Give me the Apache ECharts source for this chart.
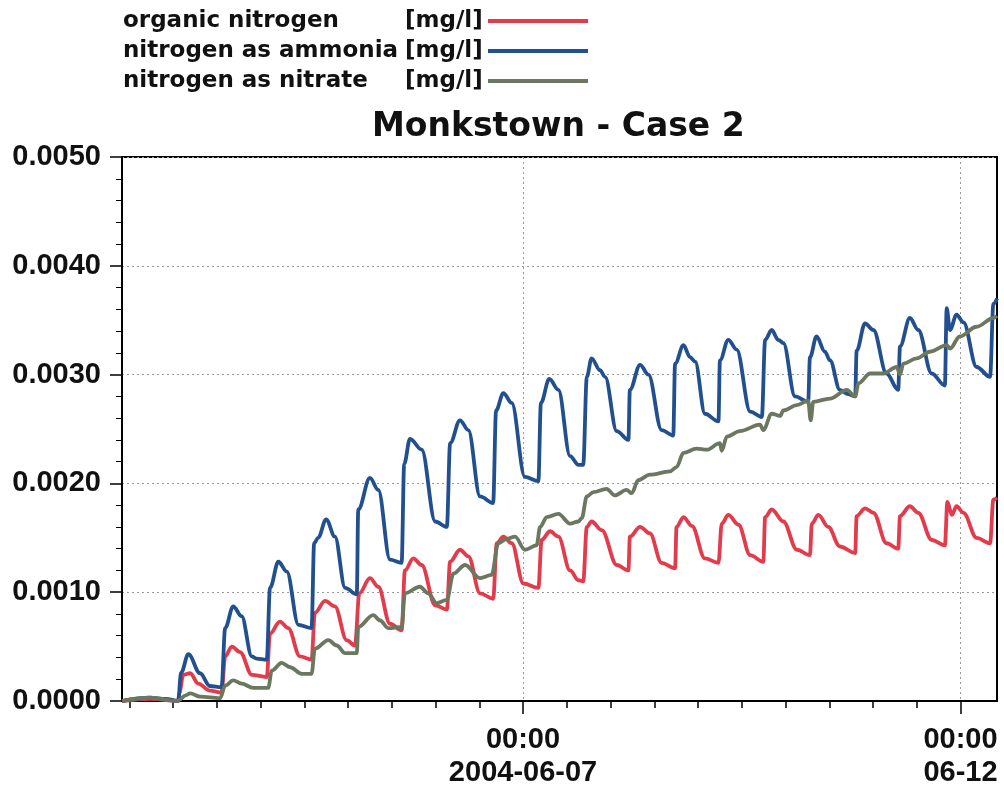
<!DOCTYPE html>
<html><head><meta charset="utf-8">
<script src="https://cdn.jsdelivr.net/npm/echarts@6/dist/echarts.min.js"></script>
<style>html,body{margin:0;padding:0;background:#fff}#c{width:1004px;height:790px}</style>
</head><body><div id="c"></div>
<script>
// ---- texts ----
const chartTitle = 'Monkstown - Case 2';
const seriesNames = ['organic nitrogen', 'nitrogen as ammonia', 'nitrogen as nitrate'];
const unitLabel = '[mg/l]';
const seriesColors = ['#e23b4b', '#22508f', '#6b775f'];

// ---- x axis: hours since 2004-06-02 10:00 ----
const startDate = [2004, 5, 2, 10];      // y, m(0-based), d, h
const spanHours = 240;
const labelHours = [110, 230];           // 2004-06-07 00:00, 2004-06-12 00:00
const firstMinorTickHour = 2;            // 2004-06-02 12:00
const minorTickHours = 12;

// ---- y axis ----
const yMin = 0, yMax = 0.005, yStep = 0.001;

// ---- series values: [hours since start, mg/l] ----
const organicN = [[0,0],[7.7,0.00002],[15.4,0],
[15.7,0.00007],[16.8,0.00024],[18.7,0.000255],[20.9,0.00016],[24.1,0.000095],[27.3,0.000077],
[28.3,0.00041],[30.1,0.0005],[32.4,0.00045],[35.6,0.00024],[39.7,0.00022],
[40.6,0.00062],[43.3,0.00073],[45.6,0.00067],[48.8,0.00041],[52.0,0.00038],
[52.9,0.00081],[55.7,0.00092],[58.4,0.00087],[61.6,0.00056],[63.9,0.00051],
[65.1,0.00099],[68.0,0.00113],[70.3,0.00105],[73.5,0.00071],[76.7,0.00065],
[77.6,0.0012],[79.9,0.00131],[82.2,0.00125],[85.9,0.00088],[89.1,0.00084],
[90.0,0.00128],[92.7,0.00139],[95.0,0.00133],[98.2,0.00099],[101.8,0.00094],
[102.8,0.00145],[104.6,0.00151],[106.9,0.00145],[110.1,0.00108],[114.2,0.00104],
[115.1,0.00148],[117.4,0.00156],[119.7,0.00151],[122.9,0.0012],[125.2,0.00111],[126.5,0.0011],
[127.5,0.0016],[128.8,0.00165],[131.6,0.00157],[135.7,0.00125],[138.9,0.0012],
[139.3,0.00151],[142.1,0.0016],[144.8,0.00154],[148.0,0.00127],[151.7,0.00122],
[152.1,0.0016],[154.0,0.00169],[156.3,0.00161],[159.9,0.00131],[163.6,0.00127],
[164.5,0.00163],[166.3,0.00171],[169.1,0.00162],[172.3,0.00134],[175.9,0.00128],
[176.4,0.00169],[178.2,0.00176],[181.4,0.00165],[185.1,0.00139],[188.7,0.00134],
[189.2,0.00163],[191.0,0.00171],[193.7,0.0016],[196.9,0.00142],[201.1,0.00136],
[201.5,0.0017],[203.8,0.00177],[206.1,0.00173],[209.7,0.00145],[212.9,0.0014],
[213.4,0.0017],[216.1,0.00179],[218.4,0.00173],[222.1,0.00148],[225.7,0.00143],
[226.4,0.00183],[227.6,0.00171],[228.9,0.00179],[230.8,0.00173],[234.4,0.0015],[238.1,0.00145],
[239.0,0.00185],[240,0.00187]];

const ammoniaN = [[0,0],[7.7,0.00003],[12,0.00002],[15.4,0],
[16.2,0.00026],[18.2,0.00043],[21.4,0.000255],[24.1,0.000138],[27.3,0.000126],
[28.3,0.00067],[30.5,0.00087],[32.8,0.00078],[35.6,0.00041],[36.9,0.00039],[39.7,0.00038],
[40.6,0.00104],[42.9,0.00128],[45.2,0.00119],[48.4,0.0007],[52.0,0.00067],
[52.7,0.00145],[53.8,0.0015],[56.0,0.00167],[58.4,0.00151],[61.2,0.00104],[64.4,0.00098],
[64.8,0.00176],[68.0,0.00205],[70.3,0.00194],[73.5,0.0013],[76.7,0.00127],
[77.4,0.00218],[79.0,0.00241],[82.2,0.00231],[85.9,0.00165],[89.1,0.0016],
[90.0,0.00237],[92.7,0.00258],[95.0,0.00249],[98.2,0.00188],[101.8,0.00182],
[102.6,0.00267],[104.6,0.00283],[106.9,0.00274],[110.5,0.00206],[114.2,0.00202],
[114.9,0.00274],[117.2,0.00296],[119.7,0.00286],[122.9,0.00225],[125.2,0.00217],[126.5,0.00217],
[127.5,0.00298],[128.8,0.00315],[131.1,0.00304],[132.5,0.00298],[135.7,0.00248],[138.9,0.0024],
[139.3,0.00286],[142.1,0.00309],[144.4,0.003],[148.0,0.00249],[151.2,0.00244],
[151.7,0.0031],[154.0,0.00327],[155.8,0.00316],[157.2,0.00312],[159.9,0.00264],[163.6,0.00257],
[164.0,0.00313],[166.3,0.00332],[168.6,0.00323],[172.3,0.00266],[175.5,0.00261],
[176.4,0.00332],[178.2,0.00341],[180.0,0.00332],[181.4,0.00329],[184.6,0.0028],[188.2,0.00275],
[188.7,0.00316],[190.5,0.00335],[192.8,0.00321],[194.2,0.00313],[196.9,0.00286],[199.2,0.00282],[201.1,0.0028],
[201.5,0.00322],[203.8,0.00347],[206.1,0.00341],[209.7,0.00301],[212.9,0.00286],
[213.4,0.00326],[216.1,0.00352],[218.4,0.00341],[222.1,0.00301],[225.7,0.0029],
[226.2,0.00361],[227.1,0.00341],[228.9,0.00355],[230.8,0.00348],[234.4,0.00307],[238.1,0.00298],
[239.0,0.00365],[240,0.0037]];

const nitrateN = [[0,0],[7.7,0.00003],[15.4,0],
[15.7,0.00001],[17.3,0.00005],[18.7,0.00007],[21.4,0.00004],[26.9,0.000025],
[28.3,0.00014],[30.5,0.00019],[32.8,0.00016],[36.0,0.00012],[40.1,0.00012],
[41.1,0.00028],[43.8,0.00035],[46.1,0.00031],[49.3,0.00025],[52.0,0.00025],
[52.9,0.00048],[56.6,0.00056],[58.9,0.00051],[61.2,0.00044],[64.4,0.00044],
[64.8,0.00068],[68.9,0.00079],[70.8,0.00074],[73.0,0.00067],[76.7,0.00068],
[77.6,0.00099],[81.7,0.00105],[84.0,0.00099],[86.3,0.0009],[89.1,0.00093],
[90.9,0.00117],[94.1,0.00125],[98.2,0.00113],[101.4,0.00116],
[103.2,0.00145],[105.5,0.00149],[107.8,0.00151],[110.5,0.00139],[113.7,0.00143],
[114.7,0.0016],[116.5,0.00169],[119.7,0.00172],[122.9,0.00163],[125.2,0.00165],[126.1,0.00168],
[127.5,0.00188],[129.3,0.00192],[132.9,0.00195],[135.2,0.00189],[138.4,0.00194],[139.8,0.00191],
[141.6,0.00203],[144.8,0.00208],[150.3,0.00211],[152.1,0.00215],[154.0,0.00228],[157.6,0.00232],
[160.4,0.00231],[164.0,0.00237],[164.5,0.0023],[165.9,0.00243],[169.5,0.00248],[175.0,0.00254],
[175.9,0.00249],[178.2,0.00264],[180.5,0.00262],[181.4,0.00267],[185.1,0.00272],[188.2,0.00276],
[188.9,0.00258],[189.6,0.00275],[194.2,0.00278],[198.8,0.00286],[201.1,0.0028],[202.0,0.00292],
[205.2,0.00301],[208.8,0.00301],[212.5,0.00307],[213.4,0.003],[214.3,0.0031],[218.0,0.00315],
[221.6,0.00321],[226.2,0.00327],[227.1,0.00324],[229.8,0.00335],[234.4,0.00344],[239.0,0.00352],[240,0.00354]];

// ---- build ----
const HOUR = 3600 * 1000;
const startMs = new Date(startDate[0], startDate[1], startDate[2], startDate[3], 0, 0).getTime();
const minorTicks = [];
for (let h = firstMinorTickHour; h <= spanHours; h += minorTickHours) minorTicks.push(h);
const pad = n => String(n).padStart(2, '0');
const fmtX = (value) => {
  const d = new Date(startMs + value * HOUR);
  const hm = pad(d.getHours()) + ':' + pad(d.getMinutes());
  const md = pad(d.getMonth() + 1) + '-' + pad(d.getDate());
  return hm + '\n' + (value === labelHours[0] ? d.getFullYear() + '-' + md : md);
};

const chart = echarts.init(document.getElementById('c'), null, { renderer: 'canvas' });
const legendFont = { fontFamily: 'DejaVu Sans', fontWeight: 'bold', fontSize: 23, color: '#111', lineHeight: 30, align: 'left' };
const option = {
  animation: false,
  backgroundColor: '#fff',
  title: {
    text: chartTitle, left: 372, top: 111, padding: 0,
    textStyle: { fontFamily: 'DejaVu Sans', fontWeight: 'bold', fontSize: 33, color: '#111', lineHeight: 33 }
  },
  legend: {
    orient: 'vertical', left: 123, top: 6, padding: 0, itemGap: 0, align: 'right',
    icon: 'rect', itemWidth: 100, itemHeight: 4, selectedMode: false,
    data: seriesNames,
    formatter: name => '{n|' + name + '}{u|' + unitLabel + '}',
    textStyle: Object.assign({}, legendFont, {
      rich: { n: Object.assign({ width: 282 }, legendFont), u: Object.assign({ width: 78 }, legendFont) }
    })
  },
  grid: { left: 122, right: 7, top: 157, bottom: 89, show: true, borderColor: '#000', borderWidth: 2,
          containLabel: false, outerBoundsMode: 'none' },
  xAxis: [{
    type: 'value', min: 0, max: spanHours,
    axisLine: { show: true, onZero: false, lineStyle: { color: '#000', width: 2 } },
    axisTick: { show: true, customValues: minorTicks, length: 7, lineStyle: { color: '#000', width: 1.5 } },
    axisLabel: { show: false },
    splitLine: { show: false }
  }, {
    type: 'value', min: 0, max: spanHours, position: 'bottom',
    axisLine: { show: false, onZero: false },
    axisTick: { show: true, customValues: labelHours, length: 13, lineStyle: { color: '#000', width: 1.5 } },
    axisLabel: { show: true, customValues: labelHours, formatter: fmtX, margin: 22, hideOverlap: false,
      fontFamily: 'Liberation Sans', fontWeight: 'bold', fontSize: 29, color: '#111', lineHeight: 33, align: 'center' },
    splitLine: { show: true, lineStyle: { color: '#999', width: 1, type: [2, 3] } }
  }],
  yAxis: {
    type: 'value', min: yMin, max: yMax, interval: yStep,
    axisLine: { show: true, lineStyle: { color: '#000', width: 2 } },
    axisTick: { show: true, length: 12, lineStyle: { color: '#000', width: 1.5 } },
    minorTick: { show: true, splitNumber: 5, length: 6, lineStyle: { color: '#000', width: 1 } },
    axisLabel: { formatter: v => v.toFixed(4), margin: 21, fontFamily: 'Liberation Sans', fontWeight: 'bold',
      fontSize: 29, color: '#111' },
    splitLine: { show: true, lineStyle: { color: '#999', width: 1, type: [2, 3] } }
  },
  series: [organicN, ammoniaN, nitrateN].map((d, i) => ({
    name: seriesNames[i], type: 'line', xAxisIndex: 0, data: d,
    showSymbol: false, symbol: 'none', smooth: 0.35, smoothMonotone: 'x',
    color: seriesColors[i], lineStyle: { color: seriesColors[i], width: 3.8 }
  }))
};
chart.setOption(option);
</script></body></html>
